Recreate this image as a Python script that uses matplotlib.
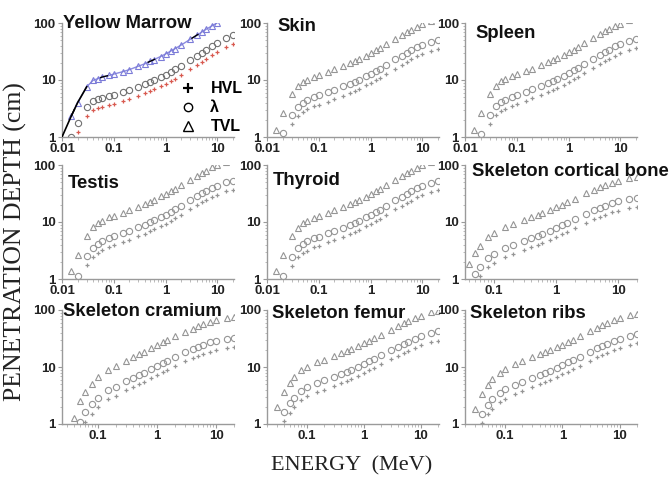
import matplotlib
matplotlib.use("Agg")
import matplotlib.pyplot as plt
from matplotlib.lines import Line2D
from matplotlib.ticker import FixedLocator, FixedFormatter, LogLocator, NullFormatter

plt.rcParams['font.family'] = ['Liberation Sans', 'DejaVu Sans']

# ---------------- data ----------------
E_soft = [0.015, 0.02, 0.03, 0.04, 0.05, 0.06, 0.08, 0.1, 0.15, 0.2, 0.3, 0.4, 0.5, 0.6,
          0.8, 1, 1.25, 1.5, 2, 3, 4, 5, 6, 8, 10, 15, 20]
E_bone40 = [0.04, 0.05, 0.06, 0.08, 0.1, 0.15, 0.2, 0.3, 0.4, 0.5, 0.6, 0.8, 1, 1.25, 1.5,
            2, 3, 4, 5, 6, 8, 10, 15, 20]
E_bone30 = [0.03, 0.04, 0.05, 0.06, 0.08, 0.1, 0.15, 0.2, 0.3, 0.4, 0.5, 0.6, 0.8, 1, 1.25, 1.5,
            2, 3, 4, 5, 6, 8, 10, 15, 20]

marrow_hvl = [0.69, 1.21, 2.29, 2.98, 3.19, 3.40, 3.60, 3.81, 4.23, 4.57, 5.27, 5.82, 6.38, 6.86,
              7.76, 8.59, 9.63, 10.6, 12.3, 15.6, 18.4, 20.8, 23.2, 27.0, 30.5, 37.4, 43.0]
marrow_lam = [1.0, 1.75, 3.3, 4.3, 4.6, 4.9, 5.2, 5.5, 6.1, 6.6, 7.6, 8.4, 9.2, 9.9,
              11.2, 12.4, 13.9, 15.3, 17.8, 22.5, 26.5, 30.0, 33.5, 39.0, 44.0, 54.0, 62.0]
marrow_tvl = [2.3, 4.0, 7.6, 9.9, 10.6, 11.3, 12.0, 12.7, 14.0, 15.2, 17.5, 19.3, 21.2, 22.8,
              25.8, 28.6, 32.0, 35.2, 41.0, 51.8, 61.0, 69.1, 77.1, 89.8, 101, 124, 143]
marrow_fit_E = [0.01, 0.015, 0.02, 0.03]
marrow_fit_v = [1.0, 2.3, 4.0, 7.6]

skin_hvl = [0.40, 0.80, 1.70, 2.36, 2.77, 3.05, 3.43, 3.71, 4.19, 4.61, 5.34, 5.96, 6.52, 7.07,
            8.04, 8.94, 9.98, 11.0, 12.8, 15.9, 18.6, 20.9, 22.9, 26.1, 28.6, 32.8, 35.2]
skin_lam = [0.58, 1.16, 2.45, 3.4, 4.0, 4.4, 4.95, 5.35, 6.05, 6.65, 7.7, 8.6, 9.4, 10.2,
            11.6, 12.9, 14.4, 15.9, 18.5, 23.0, 26.9, 30.2, 33.0, 37.7, 41.3, 47.3, 50.8]
skin_tvl = [1.34, 2.67, 5.64, 7.83, 9.21, 10.1, 11.4, 12.3, 13.9, 15.3, 17.7, 19.8, 21.6, 23.5,
            26.7, 29.7, 33.2, 36.6, 42.6, 53.0, 62.0, 69.6, 76.0, 86.8, 95.1, 109, 117]

spleen_hvl = [0.40, 0.78, 1.68, 2.39, 2.84, 3.12, 3.53, 3.81, 4.30, 4.75, 5.48, 6.13, 6.72, 7.28,
              8.25, 9.22, 10.3, 11.4, 13.2, 16.4, 19.2, 21.6, 23.6, 26.9, 29.5, 33.8, 36.3]
spleen_lam = [0.57, 1.13, 2.42, 3.45, 4.1, 4.5, 5.1, 5.5, 6.2, 6.85, 7.9, 8.85, 9.7, 10.5,
              11.9, 13.3, 14.8, 16.4, 19.0, 23.7, 27.7, 31.1, 34.0, 38.8, 42.5, 48.7, 52.3]
spleen_tvl = [1.31, 2.6, 5.57, 7.94, 9.44, 10.4, 11.7, 12.7, 14.3, 15.8, 18.2, 20.4, 22.3, 24.2,
              27.4, 30.6, 34.1, 37.8, 43.8, 54.6, 63.8, 71.6, 78.3, 89.4, 97.9, 112, 120]

testis_hvl = [0.42, 0.80, 1.73, 2.43, 2.88, 3.19, 3.60, 3.88, 4.40, 4.85, 5.61, 6.24, 6.86, 7.42,
              8.46, 9.36, 10.5, 11.6, 13.4, 16.7, 19.5, 22.0, 24.0, 27.4, 30.0, 34.4, 36.9]
testis_lam = [0.60, 1.15, 2.5, 3.5, 4.15, 4.6, 5.2, 5.6, 6.35, 7.0, 8.1, 9.0, 9.9, 10.7,
              12.2, 13.5, 15.1, 16.7, 19.4, 24.1, 28.2, 31.7, 34.6, 39.5, 43.3, 49.6, 53.3]
testis_tvl = [1.38, 2.65, 5.76, 8.06, 9.56, 10.6, 12.0, 12.9, 14.6, 16.1, 18.7, 20.7, 22.8, 24.6,
              28.1, 31.1, 34.8, 38.5, 44.7, 55.5, 64.9, 73.0, 79.7, 91.0, 99.7, 114, 123]

thyroid_hvl = [0.41, 0.79, 1.72, 2.40, 2.84, 3.15, 3.57, 3.85, 4.37, 4.82, 5.55, 6.20, 6.79, 7.35,
               8.39, 9.29, 10.4, 11.4, 13.3, 16.6, 19.3, 21.8, 23.8, 27.1, 29.7, 34.0, 36.6]
thyroid_lam = [0.59, 1.14, 2.48, 3.46, 4.1, 4.55, 5.15, 5.55, 6.3, 6.95, 8.0, 8.95, 9.8, 10.6,
               12.1, 13.4, 15.0, 16.5, 19.2, 23.9, 27.9, 31.4, 34.3, 39.1, 42.9, 49.1, 52.8]
thyroid_tvl = [1.36, 2.63, 5.71, 7.97, 9.44, 10.5, 11.9, 12.8, 14.5, 16.0, 18.4, 20.6, 22.6, 24.4,
               27.9, 30.9, 34.5, 38.0, 44.2, 55.0, 64.3, 72.3, 79.0, 90.0, 98.8, 113, 122]

cortical_hvl = [0.54, 0.85, 1.14, 1.61, 1.94, 2.44, 2.75, 3.22, 3.62, 3.96, 4.29, 4.89, 5.43, 6.08,
                6.67, 7.76, 9.57, 11.1, 12.3, 13.2, 14.8, 15.9, 17.5, 18.2]
cortical_lam = [0.78, 1.23, 1.65, 2.33, 2.80, 3.52, 3.97, 4.65, 5.22, 5.72, 6.19, 7.05, 7.83, 8.77,
                9.63, 11.2, 13.8, 16.0, 17.7, 19.1, 21.4, 23.0, 25.3, 26.3]
cortical_tvl = [1.80, 2.83, 3.80, 5.37, 6.45, 8.11, 9.14, 10.7, 12.0, 13.2, 14.3, 16.2, 18.0, 20.2,
                22.2, 25.8, 31.8, 36.8, 40.8, 44.0, 49.3, 53.0, 58.3, 60.6]

cramium_hvl = [0.38, 0.75, 1.10, 1.52, 2.0, 2.7, 3.1, 3.9, 4.4, 5.0, 5.5, 6.4, 7.3, 8.2,
               9.0, 10.4, 12.5, 14.2, 15.6, 16.8, 18.7, 20.1, 21.8, 22.5]
cramium_lam = [0.55, 1.08, 1.6, 2.2, 2.9, 3.9, 4.5, 5.6, 6.4, 7.2, 7.9, 9.3, 10.5, 11.8,
               13.0, 15.0, 18.0, 20.5, 22.5, 24.2, 27.0, 29.0, 31.5, 32.5]
cramium_tvl = [1.27, 2.5, 3.7, 5.1, 6.7, 9.0, 10.4, 12.9, 14.7, 16.6, 18.2, 21.4, 24.2, 27.2,
               29.9, 34.5, 41.4, 47.2, 51.8, 55.7, 62.1, 66.8, 72.5, 74.8]

femur_hvl = [0.59, 1.11, 1.59, 1.98, 2.63, 3.05, 3.60, 4.02, 4.71, 5.27, 5.75, 6.24, 7.07, 7.83,
             8.73, 9.63, 11.1, 13.6, 15.7, 17.5, 19.1, 21.7, 23.9, 27.4, 29.1]
femur_lam = [0.85, 1.6, 2.3, 2.85, 3.8, 4.4, 5.2, 5.8, 6.8, 7.6, 8.3, 9.0, 10.2, 11.3,
             12.6, 13.9, 16.0, 19.6, 22.7, 25.3, 27.6, 31.3, 34.5, 39.5, 42.0]
femur_tvl = [1.96, 3.7, 5.3, 6.6, 8.75, 10.1, 12.0, 13.4, 15.7, 17.5, 19.1, 20.7, 23.5, 26.0,
             29.0, 32.0, 36.8, 45.1, 52.3, 58.3, 63.6, 72.1, 79.5, 91.0, 96.7]

ribs_hvl = [0.55, 1.03, 1.48, 1.87, 2.41, 2.80, 3.40, 3.80, 4.46, 5.0, 5.48, 5.94, 6.75, 7.48,
            8.32, 9.08, 10.5, 12.8, 14.7, 16.4, 17.7, 20.0, 21.7, 24.5, 26.1]
ribs_lam = [0.80, 1.48, 2.13, 2.70, 3.48, 4.04, 4.90, 5.48, 6.43, 7.22, 7.91, 8.57, 9.74, 10.8,
            12.0, 13.1, 15.1, 18.4, 21.2, 23.6, 25.6, 28.8, 31.3, 35.4, 37.6]
ribs_tvl = [1.84, 3.4, 4.9, 6.2, 8.0, 9.3, 11.3, 12.6, 14.8, 16.6, 18.2, 19.7, 22.4, 24.8,
            27.6, 30.2, 34.8, 42.4, 48.8, 54.2, 58.8, 66.2, 72.0, 81.5, 86.5]

titles = ["Yellow Marrow", "Skin", "Spleen", "Testis", "Thyroid", "Skeleton cortical bone",
          "Skeleton cramium", "Skeleton femur", "Skeleton ribs"]
energies = [E_soft, E_soft, E_soft, E_soft, E_soft, E_bone40, E_bone40, E_bone30, E_bone30]
hvls = [marrow_hvl, skin_hvl, spleen_hvl, testis_hvl, thyroid_hvl, cortical_hvl, cramium_hvl, femur_hvl, ribs_hvl]
lams = [marrow_lam, skin_lam, spleen_lam, testis_lam, thyroid_lam, cortical_lam, cramium_lam, femur_lam, ribs_lam]
tvls = [marrow_tvl, skin_tvl, spleen_tvl, testis_tvl, thyroid_tvl, cortical_tvl, cramium_tvl, femur_tvl, ribs_tvl]
xlims = [(0.01, 21), (0.01, 21), (0.01, 21), (0.01, 21), (0.01, 21), (0.034, 20),
         (0.025, 20), (0.02, 21), (0.02, 20)]
legend_labels = ["HVL", "λ", "TVL"]

# ---------------- layout ----------------
W, H = 671, 480
fig = plt.figure(figsize=(W / 100, H / 100), dpi=100)
col_left = [62, 267, 465]
row_top = [23, 165, 310]
ax_w, ax_h = 172, 114
title_pos = [(0.006, 1.07), (0.06, 1.04), (0.058, 0.98), (0.035, 0.91), (0.035, 0.94),
             (0.04, 1.02), (0.006, 1.06), (0.03, 1.04), (0.03, 1.04)]

GREY = '#959595'
for i in range(9):
    r, c = divmod(i, 3)
    ax = fig.add_axes([col_left[c] / W, 1 - (row_top[r] + ax_h) / H, ax_w / W, ax_h / H])
    E = energies[i]
    if i == 0:
        ax.plot(E, tvls[i], color='#8a8ae0', lw=1.0, marker='^', ms=4.5, mfc='none', mec='#7c7cd8', mew=0.8, zorder=3)
        ax.plot(marrow_fit_E, marrow_fit_v, color='black', lw=1.2, zorder=4)
        ax.plot(E, tvls[i], color='black', lw=1.0, dashes=(6, 30), zorder=4)
        ax.plot(E, lams[i], ls='none', marker='o', ms=4.5, mfc='none', mec='#707070', mew=0.8)
        ax.plot(E, hvls[i], ls='none', marker='+', ms=3.5, mec='#d85a50', mew=0.9)
        handles = [Line2D([], [], ls='none', marker='+', ms=7, mec='black', mew=1.6),
                   Line2D([], [], ls='none', marker='o', ms=6, mfc='none', mec='black', mew=1.0),
                   Line2D([], [], ls='none', marker='^', ms=7, mfc='none', mec='black', mew=1.0)]
        ax.legend(handles, legend_labels, loc='upper left', bbox_to_anchor=(0.64, 0.56),
                  frameon=False, handlelength=1.0, handletextpad=0.9, labelspacing=0.25,
                  prop={'size': 11.5, 'weight': 'bold'}, borderpad=0)
    else:
        ax.plot(E, tvls[i], ls='none', marker='^', ms=4.5, mfc='none', mec=GREY, mew=0.8)
        ax.plot(E, lams[i], ls='none', marker='o', ms=4.5, mfc='none', mec=GREY, mew=0.8)
        ax.plot(E, hvls[i], ls='none', marker='+', ms=3.5, mec=GREY, mew=0.9)

    ax.set_xscale('log')
    ax.set_yscale('log')
    ax.set_xlim(*xlims[i])
    ax.set_ylim(1, 100)
    for s in ['top', 'right']:
        ax.spines[s].set_visible(False)
    for s in ['left', 'bottom']:
        ax.spines[s].set_color('#9a9a9a')
        ax.spines[s].set_linewidth(1.0)
    if r < 2:
        xt = [0.01, 0.1, 1, 10]
        xl = ['0.01', '0.1', '1', '10']
    else:
        xt = [0.1, 1, 10]
        xl = ['0.1', '1', '10']
    ax.xaxis.set_major_locator(FixedLocator(xt))
    ax.xaxis.set_major_formatter(FixedFormatter(xl))
    ax.xaxis.set_minor_locator(LogLocator(base=10, subs=range(2, 10)))
    ax.xaxis.set_minor_formatter(NullFormatter())
    ax.yaxis.set_major_locator(FixedLocator([1, 10, 100]))
    ax.yaxis.set_major_formatter(FixedFormatter(['1', '10', '100']))
    ax.yaxis.set_minor_locator(LogLocator(base=10, subs=range(2, 10)))
    ax.yaxis.set_minor_formatter(NullFormatter())
    ax.tick_params(which='major', length=3, width=0.8, color='#9a9a9a', pad=1.5,
                   labelsize=9.5, labelcolor='#222222')
    ax.tick_params(which='minor', length=1.8, width=0.6, color='#b0b0b0')
    for lab in ax.get_xticklabels() + ax.get_yticklabels():
        lab.set_fontweight('bold')
    ax.patch.set_alpha(0)
    tx, ty = title_pos[i]
    ax.text(tx, ty, titles[i], transform=ax.transAxes, fontsize=13.3, fontweight='bold',
            va='top', ha='left', color='#111111', clip_on=False)

fig.text(15 / W, 1 - 242 / H, 'PENETRATION DEPTH (cm)', rotation=90, ha='center', va='center',
         fontsize=18.5, family=['Liberation Serif', 'DejaVu Serif'], color='#222222')
fig.text(352 / W, 1 - 466 / H, 'ENERGY  (MeV)', ha='center', va='center',
         fontsize=16, family=['Liberation Serif', 'DejaVu Serif'], color='#222222')

fig.savefig('out.png', dpi=100)
